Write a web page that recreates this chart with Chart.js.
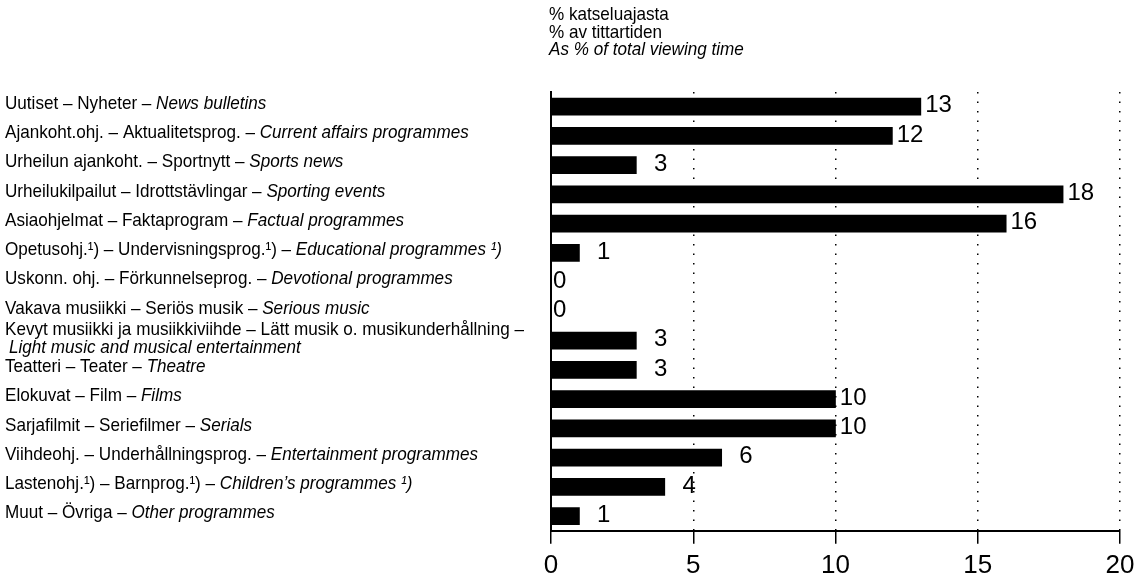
<!DOCTYPE html>
<html lang="fi">
<head>
    <meta charset="UTF-8">
    <title>% katseluajasta</title>
    <script src="https://cdn.jsdelivr.net/npm/chart.js"></script>
    <style>
        html, body { margin: 0; padding: 0; background: #fff; }
        #wrap { width: 1146px; height: 579px; position: relative; }
    </style>
</head>
<body>
    <div id="wrap"><canvas id="viewChart"></canvas></div>
    <script>
        // Finnish / Swedish / English names of programme types
        const fiLabels = ['Uutiset', 'Ajankoht.ohj.', 'Urheilun ajankoht.', 'Urheilukilpailut', 'Asiaohjelmat',
            'Opetusohj.¹)', 'Uskonn. ohj.', 'Vakava musiikki', 'Kevyt musiikki ja musiikkiviihde', 'Teatteri',
            'Elokuvat', 'Sarjafilmit', 'Viihdeohj.', 'Lastenohj.¹)', 'Muut'];
        const svLabels = ['Nyheter', 'Aktualitetsprog.', 'Sportnytt', 'Idrottstävlingar', 'Faktaprogram',
            'Undervisningsprog.¹)', 'Förkunnelseprog.', 'Seriös musik', 'Lätt musik o. musikunderhållning', 'Teater',
            'Film', 'Seriefilmer', 'Underhållningsprog.', 'Barnprog.¹)', 'Övriga'];
        const enLabels = ['News bulletins', 'Current affairs programmes', 'Sports news', 'Sporting events',
            'Factual programmes', 'Educational programmes ¹)', 'Devotional programmes', 'Serious music',
            'Light music and musical entertainment', 'Theatre', 'Films', 'Serials', 'Entertainment programmes',
            'Children’s programmes ¹)', 'Other programmes'];
        const shares = [13, 12, 3, 18, 16, 1, 0, 0, 3, 3, 10, 10, 6, 4, 1];
        const xTicks = [0, 5, 10, 15, 20];
        const unitTitle = ['% katseluajasta', '% av tittartiden', 'As % of total viewing time'];

        const sans = '"Liberation Sans", Arial, sans-serif';
        const squeeze = 0.9; // the printed labels use a condensed face

        // draw text squeezed horizontally, returns drawn width
        function narrowText(ctx, text, x, y, italic) {
            ctx.font = (italic ? 'italic ' : '') + '19px ' + sans;
            const w = ctx.measureText(text).width * squeeze;
            ctx.save();
            ctx.translate(x, y);
            ctx.scale(squeeze, 1);
            ctx.fillText(text, 0, 0);
            ctx.restore();
            return w;
        }
        function narrowWidth(ctx, text, italic) {
            ctx.font = (italic ? 'italic ' : '') + '19px ' + sans;
            return ctx.measureText(text).width * squeeze;
        }

        const labelPlugin = {
            id: 'labels',
            afterDraw(chart) {
                const ctx = chart.ctx;
                const y = chart.scales.y;
                const area = chart.chartArea;
                ctx.save();
                ctx.fillStyle = '#000';
                ctx.textBaseline = 'middle';
                ctx.textAlign = 'left';

                // unit title above the plot
                unitTitle.forEach((t, i) => {
                    narrowText(ctx, t, area.left - 2, 15 + i * 17.5, i === 2);
                });

                // category names, normal + italic part
                const maxW = area.left - 15;
                fiLabels.forEach((fi, i) => {
                    const cy = y.getPixelForValue(i) - 3;
                    const head = fi + ' – ' + svLabels[i] + ' – ';
                    const hw = narrowWidth(ctx, head, false);
                    const ew = narrowWidth(ctx, enLabels[i], true);
                    if (hw + ew > maxW) {
                        narrowText(ctx, head.trimEnd(), 5, cy - 8, false);
                        narrowText(ctx, enLabels[i], 9, cy + 10, true);
                    } else {
                        narrowText(ctx, head, 5, cy, false);
                        narrowText(ctx, enLabels[i], 5 + hw, cy, true);
                    }
                });

                // value labels next to bars
                const meta = chart.getDatasetMeta(0);
                ctx.font = '24px ' + sans;
                meta.data.forEach((bar, i) => {
                    const v = shares[i];
                    if (v === 0) {
                        ctx.textAlign = 'left';
                        ctx.fillText(String(v), bar.x + 2, bar.y - 1);
                    } else {
                        ctx.textAlign = 'right';
                        ctx.fillText(String(v), bar.x + 31, bar.y - 1);
                    }
                });
                ctx.restore();
            }
        };

        new Chart(document.getElementById('viewChart'), {
            type: 'bar',
            data: {
                labels: fiLabels,
                datasets: [{
                    data: shares,
                    backgroundColor: '#000',
                    borderWidth: 0,
                    barThickness: 17
                }]
            },
            options: {
                indexAxis: 'y',
                responsive: true,
                maintainAspectRatio: false,
                animation: false,
                layout: { padding: { left: 543, right: 26, top: 92, bottom: -8 } },
                plugins: {
                    legend: { display: false },
                    tooltip: { enabled: false },
                    title: { display: false }
                },
                scales: {
                    x: {
                        min: 0,
                        max: 20,
                        afterBuildTicks: (scale) => { scale.ticks = xTicks.map(v => ({ value: v })); },
                        ticks: {
                            color: '#000',
                            font: { family: sans, size: 26 },
                            padding: 6
                        },
                        grid: {
                            color: '#000',
                            lineWidth: 1.5,
                            tickLength: 13,
                            tickBorderDash: [],
                            tickWidth: 1.5
                        },
                        border: { color: '#000', width: 2, dash: [1.5, 8] }
                    },
                    y: {
                        ticks: { display: false },
                        grid: { display: false },
                        border: { color: '#000', width: 2 }
                    }
                }
            },
            plugins: [labelPlugin]
        });
    </script>
</body>
</html>
